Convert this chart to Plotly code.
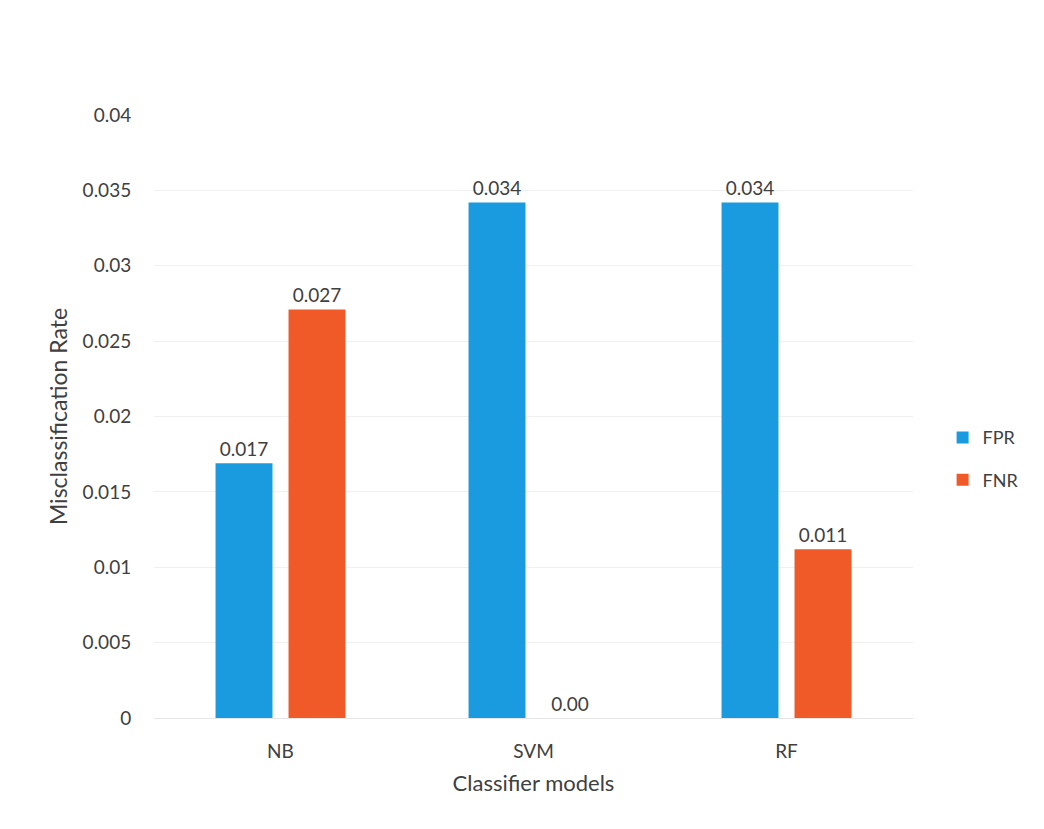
import plotly.graph_objects as go

categories = ["NB", "SVM", "RF"]
fpr_values = [0.0169, 0.0342, 0.0342]
fnr_values = [0.0271, 0.0, 0.0112]
fpr_labels = ["0.017", "0.034", "0.034"]
fnr_labels = ["0.027", "0.00", "0.011"]
y_ticks = [0, 0.005, 0.01, 0.015, 0.02, 0.025, 0.03, 0.035, 0.04]
y_tick_labels = ["0", "0.005", "0.01", "0.015", "0.02", "0.025", "0.03", "0.035", "0.04"]

font_family = "Lato, 'Open Sans', sans-serif"
text_color = "#404040"

fig = go.Figure()
fig.add_trace(go.Bar(
    name="FPR", x=categories, y=fpr_values, text=fpr_labels,
    textposition="outside", cliponaxis=False,
    marker=dict(color="#1a9be0", line=dict(width=0)),
    textfont=dict(size=19, color=text_color, family=font_family),
    legendgroup="a",
))
fig.add_trace(go.Bar(
    name="FNR", x=categories, y=fnr_values, text=fnr_labels,
    textposition="outside", cliponaxis=False,
    marker=dict(color="#f05a28", line=dict(width=0)),
    textfont=dict(size=19, color=text_color, family=font_family),
    legendgroup="b",
))

fig.update_layout(
    width=1044, height=829,
    margin=dict(l=154, r=131, t=115, b=111),
    paper_bgcolor="white", plot_bgcolor="white",
    barmode="group", bargap=0.423, bargroupgap=0.22,
    font=dict(family=font_family, size=19, color=text_color),
    showlegend=True,
    legend=dict(x=1.039, y=0.43, xanchor="left", yanchor="middle",
                font=dict(size=18, color=text_color),
                tracegroupgap=16, itemwidth=30),
)
fig.update_xaxes(
    title=dict(text="Classifier models", font=dict(size=22, color=text_color), standoff=14),
    showgrid=False, showline=True, linecolor="#e6e6e6", linewidth=1,
    tickfont=dict(size=19, color=text_color), ticks="outside", ticklen=16, tickcolor="rgba(0,0,0,0)",
)
fig.update_yaxes(
    title=dict(text="Misclassification Rate", font=dict(size=23, color=text_color), standoff=8),
    range=[0, 0.04], tickvals=y_ticks, ticktext=y_tick_labels,
    showgrid=True, gridcolor="#f0f0f0", gridwidth=1, zeroline=False,
    tickfont=dict(size=19, color=text_color), ticks="outside", ticklen=18, tickcolor="rgba(0,0,0,0)",
)

fig.write_html("out.html")
